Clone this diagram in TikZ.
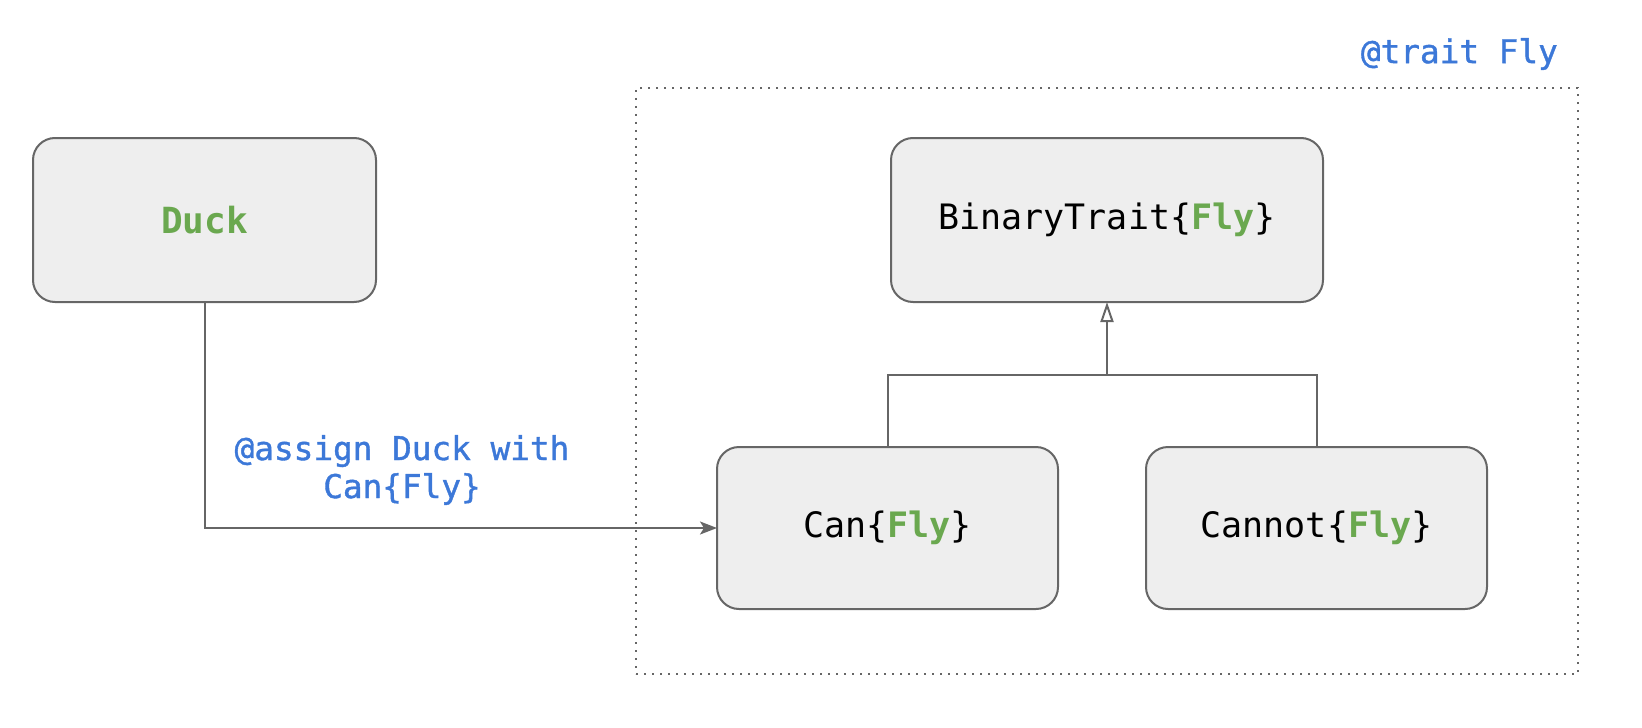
\documentclass[tikz,border=0pt]{standalone}
\usepackage{fontspec}
\setmonofont{DejaVu Sans Mono}
\newfontfamily\lblfont{DejaVu Sans Mono}[FakeBold=1.2]
\usetikzlibrary{arrows.meta}
\definecolor{flygreen}{HTML}{6AA84F}
\definecolor{labelblue}{HTML}{3C78D8}
\definecolor{boxfill}{HTML}{EEEEEE}
\definecolor{boxline}{HTML}{666666}
\newcommand{\fly}{\textcolor{flygreen}{\bfseries Fly}}
\tikzset{
  box/.style={draw=boxline, fill=boxfill, line width=2pt, rounded corners=22pt,
    inner sep=0pt, outer sep=0pt, font=\ttfamily\fontsize{35}{42}\selectfont},
  conn/.style={draw=boxline, line width=2pt},
  lbl/.style={text=labelblue, inner sep=0pt, align=center,
    font=\lblfont\fontsize{32.7}{38}\selectfont},
  container/.style={draw=boxline, line width=2pt, dash pattern=on 2pt off 6pt,
    inner sep=0pt, outer sep=0pt}
}
\begin{document}
\begin{tikzpicture}[x=1pt,y=-1pt]
  \useasboundingbox (0,0) rectangle (1642,728);
  \node[container, minimum width=942pt, minimum height=586pt] (frame) at (1107,381) {};
  \node[lbl, anchor=east] (traitlbl) at (1558,54) {@trait Fly};
  \node[box, minimum width=343pt, minimum height=164pt] (duck) at (204.5,220)
    {\textcolor{flygreen}{\bfseries\fontsize{36}{42}\selectfont Duck}};
  \node[box, minimum width=432pt, minimum height=164pt] (bt) at (1107,220)
    {BinaryTrait\{\fly\}};
  \node[box, minimum width=341pt, minimum height=162pt] (can) at (887.5,528)
    {Can\{\fly\}};
  \node[box, minimum width=341pt, minimum height=162pt] (cannot) at (1316.5,528)
    {Cannot\{\fly\}};
  \coordinate (join) at (1107,375);
  \draw[conn, -{Stealth[length=17pt, width=13pt, inset=4pt, fill=boxline]}] (duck.south) |- (can.west);
  \draw[conn] (can.north) |- (join) -| (cannot.north);
  \draw[conn, -{Triangle[open, length=20pt, width=13pt, fill=white]}] (join) -- (bt.south);
  \node[lbl] (assign) at (402,470) {@assign Duck with\\Can\{Fly\}};
\end{tikzpicture}
\end{document}
